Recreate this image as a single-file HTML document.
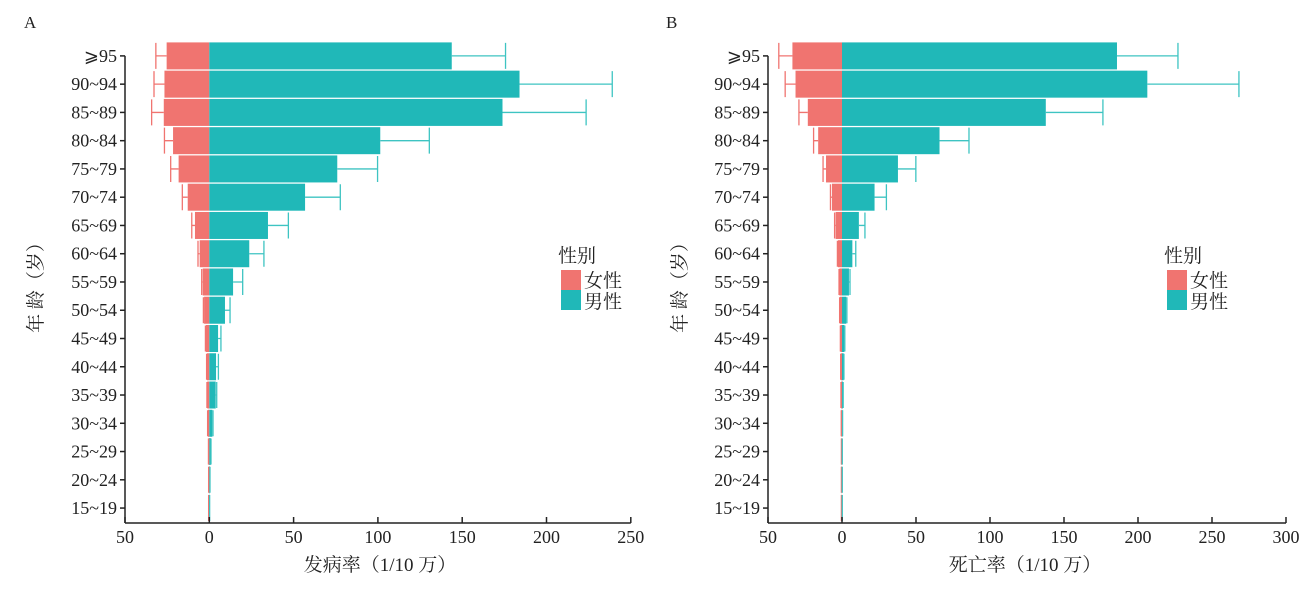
<!DOCTYPE html>
<html><head><meta charset="utf-8"><style>
body{margin:0;background:#fff;}
svg{display:block;font-family:"Liberation Serif","Noto Serif CJK SC","Noto Sans CJK SC",serif;}
</style></head><body>
<svg id="chart" width="1314" height="589"></svg>
<script>
const ages = ["⩾95","90~94","85~89","80~84","75~79","70~74","65~69","60~64","55~59","50~54","45~49","40~44","35~39","30~34","25~29","20~24","15~19"];
const incMale = [143.8,184,173.9,101.4,75.9,56.8,34.8,23.7,14.1,9.3,5.2,4,3.8,1.8,0.8,0.3,0.1];
const incMaleErr = [175.7,239,223.5,130.5,99.8,77.7,46.9,32.4,19.8,12.3,6.9,5.4,4.4,2.2,1,0.4,0.2];
const incFemale = [25.3,26.6,27,21.5,18.2,12.8,8.5,5.7,3.9,3.1,2,1.4,1.2,0.8,0.4,0.3,0.3];
const incFemaleErr = [31.7,32.8,34.2,26.6,22.9,16,10.4,6.7,4.5,3.5,2.3,1.6,1.4,1,0.5,0.4,0.4];
const mortMale = [185.8,206.3,137.7,65.9,37.8,22,11.4,7,4.7,2.9,1.6,1.1,0.6,0.3,0.1,0.1,0.1];
const mortMaleErr = [227,268.2,176.3,85.8,49.9,30,15.5,9.3,5.4,3.3,1.9,1.3,0.8,0.4,0.2,0.2,0.2];
const mortFemale = [33.5,31.4,23.1,16.1,10.8,6.8,4.3,2.7,1.8,1.4,1,0.8,0.6,0.4,0.3,0.3,0.3];
const mortFemaleErr = [42.7,38.4,29.1,19.2,12.8,7.8,5,3.1,2,1.6,1.1,0.9,0.7,0.5,0.4,0.4,0.4];
const ticksA = [-50,0,50,100,150,200,250];
const ticksB = [-50,0,50,100,150,200,250,300];

const NS="http://www.w3.org/2000/svg";
const svg=document.getElementById('chart');
function mk(tag,attrs,parent,text){const e=document.createElementNS(NS,tag);for(const k in attrs)e.setAttribute(k,attrs[k]);if(text!==undefined)e.textContent=text;(parent||svg).appendChild(e);return e;}
const rowY=i=>55.9+i*28.26;
const axisY=523;
function panel(cfg){
  const g=mk('g',{});
  
  
  const x=v=>cfg.x0+v*cfg.k;
  const bh=27;
  ages.forEach((a,i)=>{
    const cy=rowY(i);
    const f=mk('rect',{x:x(-cfg.fem[i]),y:cy-bh/2,width:cfg.fem[i]*cfg.k,height:bh,fill:'#F07470'},g);
    
    
    const m=mk('rect',{x:x(0),y:cy-bh/2,width:cfg.male[i]*cfg.k,height:bh,fill:'#20B8B8'},g);
    
    
    const fe=mk('path',{d:`M${x(-cfg.fem[i])},${cy}H${x(-cfg.femErr[i])}M${x(-cfg.femErr[i])},${cy-13}V${cy+13}`,stroke:'#F07470','stroke-width':1.3,fill:'none'},g);
    
    
    const me=mk('path',{d:`M${x(cfg.male[i])},${cy}H${x(cfg.maleErr[i])}M${x(cfg.maleErr[i])},${cy-13}V${cy+13}`,stroke:'#3EC4C2','stroke-width':1.3,fill:'none'},g);
    
    
    mk('line',{x1:cfg.ax-5,x2:cfg.ax,y1:cy,y2:cy,stroke:'#222','stroke-width':1.5},g);
    const t=mk('text',{x:cfg.ax-8,y:cy+6,'text-anchor':'end','font-size':18,fill:'#222'},g,a);
    
    
  });
  const ya=mk('line',{x1:cfg.ax,x2:cfg.ax,y1:rowY(0),y2:axisY,stroke:'#222','stroke-width':1.5},g);
  
  
  const xa=mk('line',{x1:cfg.ax,x2:x(cfg.ticks[cfg.ticks.length-1]),y1:axisY,y2:axisY,stroke:'#222','stroke-width':1.5},g);
  
  
  cfg.ticks.forEach(v=>{
    mk('line',{x1:x(v),x2:x(v),y1:axisY,y2:axisY-6,stroke:'#222','stroke-width':1.5},g);
    const t=mk('text',{x:x(v),y:axisY+20,'text-anchor':'middle','font-size':18,fill:'#222'},g,String(Math.abs(v)));
    
    
  });
  const xt=mk('text',{x:cfg.xtx,y:571,'text-anchor':'middle','font-size':19,fill:'#222'},g,cfg.xtitle);
  
  
  const yt=mk('text',{x:cfg.ytx,y:283,'text-anchor':'middle','font-size':19,fill:'#222',transform:`rotate(-90 ${cfg.ytx} 283)`},g,'年 龄（岁）');
  
  
  const pl=mk('text',{x:cfg.plx,y:28,'font-size':17,fill:'#222'},g,cfg.label);
  
  
  const lg=mk('g',{},g);
  
  
  mk('text',{x:cfg.lgx-3,y:262,'font-size':19,fill:'#222'},lg,'性别');
  const l1=mk('rect',{x:cfg.lgx,y:270,width:20,height:20,fill:'#F07470'},lg);
  
  
  const l2=mk('rect',{x:cfg.lgx,y:290,width:20,height:20,fill:'#20B8B8'},lg);
  
  
  mk('text',{x:cfg.lgx+23,y:287,'font-size':19,fill:'#222'},lg,'女性');
  mk('text',{x:cfg.lgx+23,y:308,'font-size':19,fill:'#222'},lg,'男性');
}
panel({name:'incidence-panel',x0:209.3,k:1.686,ax:125,male:incMale,maleErr:incMaleErr,fem:incFemale,femErr:incFemaleErr,ticks:ticksA,xtitle:'发病率（1/10 万）',xtx:380,ytx:42,plx:24,label:'A',lgx:561});
panel({name:'mortality-panel',x0:842,k:1.48,ax:768,male:mortMale,maleErr:mortMaleErr,fem:mortFemale,femErr:mortFemaleErr,ticks:ticksB,xtitle:'死亡率（1/10 万）',xtx:1025,ytx:686,plx:666,label:'B',lgx:1167});
</script>
</body></html>
